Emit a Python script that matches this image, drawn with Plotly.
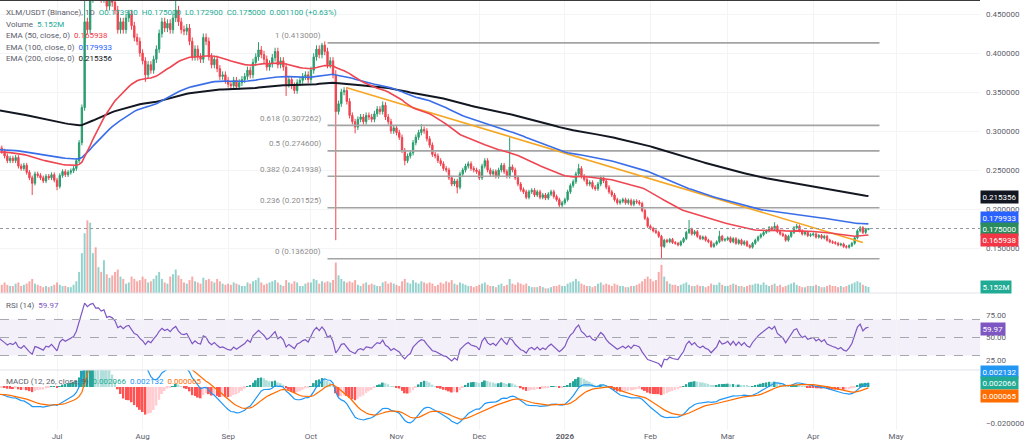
import pandas as pd
import plotly.graph_objects as go

# ---- XLM/USDT daily closes, 2025-06-10 .. 2026-04-21 ----
close_jun = [0.278, 0.274, 0.268, 0.262, 0.265, 0.262, 0.266, 0.255, 0.252, 0.256, 0.247,
             0.240, 0.233, 0.245, 0.243, 0.240, 0.236, 0.242, 0.240, 0.244, 0.237]
close_jul = [0.229, 0.243, 0.248, 0.244, 0.247, 0.249, 0.252, 0.262, 0.285, 0.330,
             0.440, 0.430, 0.470, 0.490, 0.475, 0.480, 0.470, 0.485, 0.460, 0.470,
             0.465, 0.455, 0.430, 0.440, 0.430, 0.445, 0.450, 0.435, 0.420, 0.415, 0.400]
close_aug = [0.390, 0.372, 0.385, 0.378, 0.392, 0.405, 0.425, 0.440, 0.432, 0.438,
             0.430, 0.445, 0.455, 0.440, 0.430, 0.428, 0.432, 0.415, 0.395, 0.405,
             0.395, 0.392, 0.420, 0.415, 0.395, 0.385, 0.392, 0.380, 0.370, 0.372, 0.365]
close_sep = [0.360, 0.358, 0.365, 0.357, 0.362, 0.366, 0.370, 0.378, 0.372, 0.388,
             0.395, 0.404, 0.398, 0.392, 0.382, 0.386, 0.394, 0.402, 0.385, 0.390,
             0.382, 0.360, 0.366, 0.358, 0.352, 0.362, 0.365, 0.370, 0.372, 0.366]
close_oct = [0.378, 0.395, 0.405, 0.398, 0.410, 0.402, 0.385, 0.390, 0.372, 0.325,
             0.335, 0.350, 0.352, 0.338, 0.320, 0.312, 0.305, 0.315, 0.318, 0.312,
             0.320, 0.318, 0.315, 0.322, 0.328, 0.325, 0.333, 0.318, 0.312, 0.300, 0.304]
close_nov = [0.298, 0.292, 0.275, 0.262, 0.268, 0.272, 0.285, 0.292, 0.298, 0.302,
             0.300, 0.290, 0.282, 0.270, 0.268, 0.262, 0.258, 0.252, 0.250, 0.240,
             0.232, 0.236, 0.228, 0.245, 0.250, 0.255, 0.258, 0.252, 0.250, 0.248]
close_dec = [0.240, 0.255, 0.262, 0.250, 0.245, 0.248, 0.242, 0.250, 0.256, 0.248,
             0.242, 0.254, 0.250, 0.240, 0.232, 0.225, 0.222, 0.215, 0.222, 0.224,
             0.218, 0.222, 0.215, 0.218, 0.214, 0.219, 0.222, 0.216, 0.212, 0.205, 0.208]
close_jan = [0.212, 0.222, 0.230, 0.235, 0.245, 0.252, 0.242, 0.238, 0.232, 0.234,
             0.228, 0.226, 0.232, 0.240, 0.236, 0.228, 0.222, 0.218, 0.212, 0.208,
             0.210, 0.212, 0.208, 0.211, 0.206, 0.210, 0.209, 0.207, 0.198, 0.188, 0.178]
close_feb = [0.175, 0.172, 0.170, 0.165, 0.152, 0.160, 0.158, 0.161, 0.157, 0.156,
             0.154, 0.158, 0.162, 0.170, 0.174, 0.168, 0.171, 0.165, 0.162, 0.164,
             0.160, 0.158, 0.152, 0.155, 0.158, 0.165, 0.160, 0.161]
close_mar = [0.163, 0.158, 0.162, 0.156, 0.160, 0.155, 0.158, 0.153, 0.151, 0.156,
             0.160, 0.164, 0.167, 0.170, 0.172, 0.176, 0.174, 0.178, 0.171, 0.168,
             0.166, 0.160, 0.165, 0.170, 0.176, 0.178, 0.172, 0.168, 0.170, 0.166, 0.167]
close_apr = [0.168, 0.164, 0.166, 0.163, 0.165, 0.160, 0.158, 0.157, 0.156, 0.154,
             0.155, 0.152, 0.151, 0.153, 0.156, 0.163, 0.172, 0.176, 0.170, 0.1739, 0.175]

# volume, millions
vol_jun = [8, 7, 9, 7, 6, 6, 8, 9, 6, 7, 8, 10, 12, 8, 7, 6, 5, 6, 5, 6, 7]
vol_jul = [9, 7, 6, 6, 5, 5, 7, 10, 18, 34, 51, 62, 60, 34, 39, 22, 18, 28, 16, 13,
           15, 18, 20, 14, 12, 8, 9, 14, 12, 10, 11]
vol_aug = [14, 12, 9, 10, 12, 15, 18, 12, 9, 8, 14, 16, 20, 15, 12, 9, 8, 11, 14, 10,
           9, 8, 13, 11, 12, 10, 9, 12, 10, 8, 7]
vol_sep = [8, 7, 9, 8, 7, 6, 6, 9, 8, 10, 11, 13, 9, 7, 8, 9, 10, 11, 9, 7,
           6, 11, 9, 8, 10, 9, 6, 6, 8, 9]
vol_oct = [9, 12, 11, 8, 10, 9, 10, 9, 11, 26, 15, 12, 10, 9, 10, 9, 11, 7, 6, 8,
           9, 7, 8, 7, 6, 6, 9, 10, 8, 9, 8]
vol_nov = [7, 6, 10, 12, 9, 8, 11, 9, 8, 10, 9, 8, 9, 8, 6, 7, 9, 8, 10, 9,
           11, 8, 7, 9, 8, 7, 6, 6, 5, 6]
vol_dec = [7, 8, 9, 7, 6, 6, 5, 7, 8, 6, 7, 12, 8, 7, 9, 8, 7, 8, 6, 5,
           5, 5, 6, 5, 4, 4, 5, 6, 6, 7, 6]
vol_jan = [6, 8, 9, 10, 12, 10, 8, 7, 6, 6, 5, 6, 8, 9, 7, 8, 7, 6, 8, 7,
           6, 6, 5, 5, 6, 6, 7, 8, 10, 12, 14]
vol_feb = [12, 10, 11, 18, 24, 14, 10, 8, 7, 7, 6, 7, 8, 9, 7, 6, 6, 7, 6, 6,
           5, 6, 8, 7, 7, 9, 7, 6]
vol_mar = [6, 7, 8, 7, 6, 6, 5, 6, 7, 7, 8, 8, 7, 9, 7, 6, 7, 8, 6, 7,
           5, 6, 7, 8, 9, 7, 6, 5, 5, 6, 6]
vol_apr = [6, 7, 6, 5, 5, 6, 7, 6, 6, 5, 6, 5, 6, 7, 8, 9, 10, 9, 7, 6, 5.152]

first_open = 0.280
# long wicks
high_marks = {"2025-07-11": 0.50, "2025-07-14": 0.52, "2025-08-13": 0.468, "2025-09-12": 0.414,
              "2025-10-05": 0.413, "2025-10-10": 0.378, "2025-10-27": 0.338, "2025-11-10": 0.309,
              "2025-12-12": 0.292, "2026-01-06": 0.258, "2026-02-15": 0.186, "2026-02-26": 0.172,
              "2026-03-18": 0.183, "2026-03-26": 0.181, "2026-04-21": 0.175}
low_marks = {"2025-06-22": 0.218, "2025-07-01": 0.224, "2025-08-02": 0.363, "2025-09-22": 0.345,
             "2025-10-10": 0.160, "2025-10-17": 0.297, "2025-11-04": 0.256, "2025-11-23": 0.220,
             "2026-02-05": 0.137, "2026-04-21": 0.1729}

ema_seed = {50: 0.273, 100: 0.276, 200: 0.327}
macd_seed = {"fast": 0.278, "slow": 0.2825, "signal": -0.004}
rsi_seed = {"gain": 0.004, "loss": 0.004}

fib_ratios = ["1", "0.618", "0.5", "0.382", "0.236", "0"]
fib_levels = [0.413, 0.307262, 0.2746, 0.241938, 0.201525, 0.1362]
fib_span = ["2025-10-07", "2026-04-25"]
trend_x = ["2025-10-14", "2026-04-19"]
trend_y = [0.3555, 0.157]

month_ticks = ["2025-07-01", "2025-08-01", "2025-09-01", "2025-10-01", "2025-11-01", "2025-12-01",
               "2026-01-01", "2026-02-01", "2026-03-01", "2026-04-01", "2026-05-01"]
month_text = ["Jul", "Aug", "Sep", "Oct", "Nov", "Dec", "<b>2026</b>", "Feb", "Mar", "Apr", "May"]
price_ticks = [0.15, 0.20, 0.25, 0.30, 0.35, 0.40, 0.45]

# last-bar readouts shown in the legends / axis badges
last_ema = {50: 0.165938, 100: 0.179933, 200: 0.215356}
last_rsi = 59.97
last_macd = {"hist": 0.002066, "macd": 0.002132, "signal": 0.000065}

closes = (close_jun + close_jul + close_aug + close_sep + close_oct + close_nov
          + close_dec + close_jan + close_feb + close_mar + close_apr)
volumes = (vol_jun + vol_jul + vol_aug + vol_sep + vol_oct + vol_nov
           + vol_dec + vol_jan + vol_feb + vol_mar + vol_apr)
dates = pd.date_range("2025-06-10", periods=len(closes), freq="D")

UP, DN = "#2a9d6e", "#f0434f"
opens = [first_open] + closes[:-1]
highs, lows = [], []
for d, o, c in zip(dates, opens, closes):
    k = d.strftime("%Y-%m-%d")
    highs.append(high_marks.get(k, max(o, c) * 1.012))
    lows.append(low_marks.get(k, min(o, c) * 0.988))


def ema(vals, span, seed):
    a = 2.0 / (span + 1)
    out, e = [], seed
    for v in vals:
        e += a * (v - e)
        out.append(e)
    return out


def rsi(vals, prev, g, l, n=14):
    out = []
    for v in vals:
        ch = v - prev
        g = (g * (n - 1) + max(ch, 0)) / n
        l = (l * (n - 1) + max(-ch, 0)) / n
        out.append(100 - 100 / (1 + g / l))
        prev = v
    return out


ema50 = ema(closes, 50, ema_seed[50])
ema100 = ema(closes, 100, ema_seed[100])
ema200 = ema(closes, 200, ema_seed[200])
macd = [f - s for f, s in zip(ema(closes, 12, macd_seed["fast"]), ema(closes, 26, macd_seed["slow"]))]
signal = ema(macd, 9, macd_seed["signal"])
hist = [m - s for m, s in zip(macd, signal)]
rsi14 = rsi(closes, first_open, rsi_seed["gain"], rsi_seed["loss"])

hist_colors = []
prev = 0
for h in hist:
    if h >= 0:
        hist_colors.append("#26a69a" if h > prev else "#b2dfdb")
    else:
        hist_colors.append("#ff5252" if h < prev else "#ffcdd2")
    prev = h
vol_colors = ["rgba(38,166,154,0.5)" if c >= o else "rgba(239,83,80,0.5)" for o, c in zip(opens, closes)]

FONT = "Roboto"
fig = go.Figure()
fig.add_trace(go.Bar(x=dates, y=volumes, marker_color=vol_colors, marker_line_width=0,
                     xaxis="x", yaxis="y"))
fig.add_trace(go.Candlestick(x=dates, open=opens, high=highs, low=lows, close=closes,
                             increasing=dict(line=dict(color=UP, width=1), fillcolor=UP),
                             decreasing=dict(line=dict(color=DN, width=1), fillcolor=DN),
                             whiskerwidth=0, xaxis="x", yaxis="y2"))
for lv in fib_levels:
    fig.add_trace(go.Scatter(x=fib_span, y=[lv, lv], mode="lines",
                             line=dict(color="#a3a3a3", width=1.6), xaxis="x", yaxis="y2"))
fig.add_trace(go.Scatter(x=trend_x, y=trend_y, mode="lines", line=dict(color="#f5a623", width=1.6),
                         xaxis="x", yaxis="y2"))
fig.add_trace(go.Scatter(x=dates, y=ema200, mode="lines", line=dict(color="#131722", width=2),
                         xaxis="x", yaxis="y2"))
fig.add_trace(go.Scatter(x=dates, y=ema100, mode="lines", line=dict(color="#3a6ee8", width=1.6),
                         xaxis="x", yaxis="y2"))
fig.add_trace(go.Scatter(x=dates, y=ema50, mode="lines", line=dict(color="#ee4652", width=1.6),
                         xaxis="x", yaxis="y2"))
fig.add_trace(go.Scatter(x=dates, y=rsi14, mode="lines", line=dict(color="#7e57c2", width=1.2),
                         xaxis="x2", yaxis="y3"))
fig.add_trace(go.Bar(x=dates, y=hist, marker_color=hist_colors, marker_line_width=0,
                     xaxis="x3", yaxis="y4"))
fig.add_trace(go.Scatter(x=dates, y=macd, mode="lines", line=dict(color="#2196f3", width=1.2),
                         xaxis="x3", yaxis="y4"))
fig.add_trace(go.Scatter(x=dates, y=signal, mode="lines", line=dict(color="#ff6d00", width=1.2),
                         xaxis="x3", yaxis="y4"))

xr = ["2025-06-10 08:00", "2026-05-31 10:00"]
xcommon = dict(type="date", range=xr, tickvals=month_ticks, ticktext=month_text, showgrid=True,
               gridcolor="#f3f4f6", zeroline=False, showline=False, rangeslider=dict(visible=False))
ycommon = dict(side="right", zeroline=False, ticks="", ticklabelstandoff=5,
               tickfont=dict(size=8, color="#5d606b", family=FONT))

fig.update_layout(
    width=1024, height=447, margin=dict(l=0, r=44, t=0, b=17),
    paper_bgcolor="white", plot_bgcolor="white", showlegend=False, bargap=0.3,
    font=dict(family=FONT, size=8, color="#5d606b"), hovermode=False,
    xaxis=dict(xcommon, anchor="y", showticklabels=False),
    xaxis2=dict(xcommon, anchor="y3", showticklabels=False),
    xaxis3=dict(xcommon, anchor="y4", showticklabels=True,
                tickfont=dict(size=8, color="#5d606b", family=FONT)),
    yaxis=dict(domain=[0.3186, 1], range=[0, 250], visible=False, fixedrange=True),
    yaxis2=dict(ycommon, overlaying="y", anchor="x", range=[0.0923, 0.468], tickvals=price_ticks,
                tickformat=".6f", showgrid=True, gridcolor="#f3f4f6"),
    yaxis3=dict(ycommon, domain=[0.1395, 0.3186], anchor="x2", range=[13.9, 99.4],
                tickvals=[25, 50, 75], tickformat=".2f", showgrid=False),
    yaxis4=dict(ycommon, domain=[0, 0.1395], anchor="x3", range=[-0.0239, 0.00944],
                tickvals=[-0.02], tickformat=".6f", showgrid=False),
)

shapes = [
    dict(type="line", xref="paper", yref="paper", x0=0, x1=1, y0=1, y1=1, line=dict(color="#3a3a3a", width=2)),
    dict(type="line", xref="paper", yref="paper", x0=0, x1=1, y0=0.3186, y1=0.3186, line=dict(color="#e0e3eb", width=1)),
    dict(type="line", xref="paper", yref="paper", x0=0, x1=1, y0=0.1395, y1=0.1395, line=dict(color="#e0e3eb", width=1)),
    dict(type="line", xref="paper", yref="y2", x0=0, x1=1, y0=closes[-1], y1=closes[-1],
         line=dict(color="#9598a1", width=1, dash="dot")),
    dict(type="rect", xref="paper", yref="y3", x0=0, x1=1, y0=30, y1=70, line=dict(width=0),
         fillcolor="rgba(126,87,194,0.09)", layer="below"),
]
for lv in [70, 50, 30]:
    shapes.append(dict(type="line", xref="paper", yref="y3", x0=0, x1=1, y0=lv, y1=lv,
                       line=dict(color="#a5a8b0", width=1, dash="dash")))
fig.update_layout(shapes=shapes)

ann = []
for r, lv in zip(fib_ratios, fib_levels):
    ann.append(dict(x=fib_span[0], y=lv, xref="x", yref="y2", text=f"{r} ({lv:.6f})",
                    showarrow=False, xanchor="right", yanchor="middle", xshift=-5, yshift=7,
                    font=dict(size=8, color="#8d8d8d", family=FONT)))

G, B, R, K, T = "#22ab94", "#2962ff", "#f23645", "#131722", "#22ab94"
legend_rows = [
    (12, "XLM/USDT (Binance), 1D  <span style='color:%s'>O0.173900  H0.175000  L0.172900  "
         "C0.175000  0.001100 (+0.63%%)</span>" % G),
    (24, "Volume  <span style='color:%s'>%.3fM</span>" % (T, volumes[-1])),
    (35.5, "EMA (50, close, 0)  <span style='color:%s'>%.6f</span>" % (R, last_ema[50])),
    (47, "EMA (100, close, 0)  <span style='color:%s'>%.6f</span>" % (B, last_ema[100])),
    (58.5, "EMA (200, close, 0)  <span style='color:%s'>%.6f</span>" % (K, last_ema[200])),
    (305, "RSI (14)  <span style='color:#7e57c2'>%.2f</span>" % last_rsi),
    (381, "MACD (12, 26, close, 9)  <span style='color:#22ab94'>%.6f</span>  "
          "<span style='color:#2196f3'>%.6f</span>  <span style='color:#ff6d00'>%.6f</span>"
          % (last_macd["hist"], last_macd["macd"], last_macd["signal"])),
]
for ypix, txt in legend_rows:
    ann.append(dict(x=0, y=1 - ypix / 430, xref="paper", yref="paper", text=txt, showarrow=False,
                    xanchor="left", yanchor="middle", xshift=4,
                    font=dict(size=8, color="#5d606b", family=FONT)))

badges = [
    ("%.6f" % last_ema[200], last_ema[200], "y2", "#131722", 0),
    ("%.6f" % last_ema[100], last_ema[100], "y2", "#2962ff", 7),
    ("%.6f" % closes[-1], closes[-1], "y2", "#2a8c5c", 0),
    ("%.6f" % last_ema[50], last_ema[50], "y2", "#f23645", -4),
    ("%.3fM" % volumes[-1], volumes[-1], "y", "#22ab94", 0),
    ("%.2f" % last_rsi, last_rsi, "y3", "#7e57c2", 0),
    ("%.6f" % last_macd["macd"], last_macd["macd"], "y4", "#2196f3", 11),
    ("%.6f" % last_macd["hist"], last_macd["hist"], "y4", "#22ab94", 0),
    ("%.6f" % last_macd["signal"], last_macd["signal"], "y4", "#ff6d00", -9),
]
for txt, val, yr, col, ys in badges:
    ann.append(dict(x=1, y=val, xref="paper", yref=yr, text=txt, showarrow=False, xanchor="left",
                    yanchor="middle", xshift=0, yshift=ys, bgcolor=col, borderpad=1.5,
                    font=dict(size=8, color="white", family=FONT)))
fig.update_layout(annotations=ann)

fig.write_html("out.html", config={"displayModeBar": False},
               post_script="document.body.style.margin='0';")
